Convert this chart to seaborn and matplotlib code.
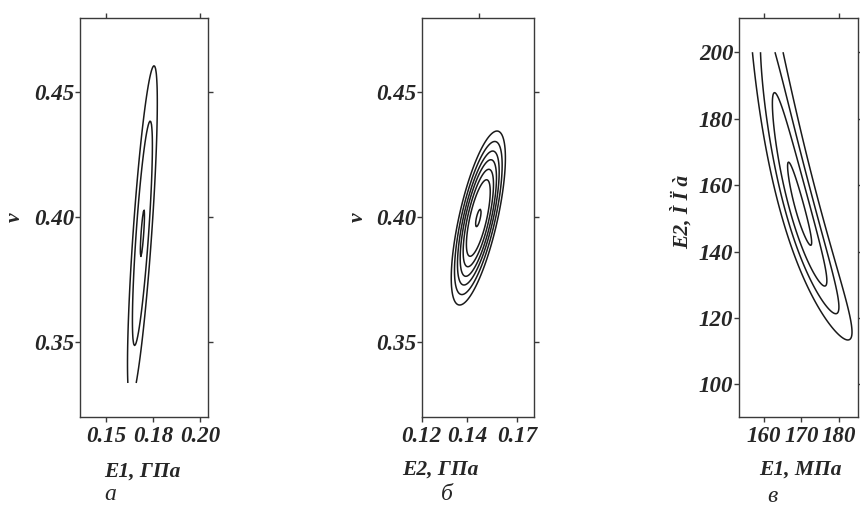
import numpy as np
import matplotlib
matplotlib.use("Agg")
import matplotlib.pyplot as plt
import seaborn as sns

sns.set_theme(style="ticks")
plt.rcParams['font.family'] = ['Liberation Serif', 'DejaVu Serif']

# ---------------- data ----------------
# panel а : E1 (GPa) vs nu
a_center = [0.1694, 0.3935]          # mean E1, mean nu
a_spread = [0.00793, 0.067]          # spread E1, spread nu (outer contour)
a_rho = 0.78
a_levels = [0.14, 0.67, 1.0]
a_grid_y = [0.3336, 0.475]           # nu range of the computed grid
a_xticks = [0.15, 0.175, 0.20]
a_xticklabels = ["0.15", "0.18", "0.20"]
a_topticks = [0.15, 0.20]
a_yticks = [0.35, 0.40, 0.45]
a_yticklabels = ["0.35", "0.40", "0.45"]

# panel б : E2 (GPa) vs nu
b_center = [0.1497, 0.3996]
b_spread = [0.0142, 0.0348]
b_rho = 0.69
b_levels = [0.10, 0.44, 0.56, 0.67, 0.77, 0.88, 1.0]
b_xticks = [0.12, 0.144, 0.17]
b_xticklabels = ["0.12", "0.14", "0.17"]
b_topticks = [0.15]
b_yticks = [0.35, 0.40, 0.45]
b_yticklabels = ["0.35", "0.40", "0.45"]

# panel в : E1 (MPa) vs E2 (in 1/E2 space)
c_center = [169.5, 0.00652]
c_spread = [14.0, 0.0023]
c_rho = 0.921
c_levels = [0.23, 0.52, 0.75, 1.0]
c_grid_y = [95.0, 200.0]
c_xticks = [160, 170, 180]
c_xticklabels = ["160", "170", "180"]
c_topticks = [160, 180]
c_yticks = [100, 120, 140, 160, 180, 200]
c_yticklabels = ["100", "120", "140", "160", "180", "200"]

# ---------------- figure ----------------
W, H = 860, 509
fig = plt.figure(figsize=(W / 100, H / 100), dpi=100)
fig.patch.set_facecolor("white")

bot = 92 / H
hgt = (417 - 18.3) / H
ax_a = fig.add_axes([80 / W, bot, 128 / W, hgt])
ax_b = fig.add_axes([421.7 / W, bot, 112.3 / W, hgt])
ax_c = fig.add_axes([739 / W, bot, 119 / W, hgt])

FAM = ['Liberation Serif', 'DejaVu Serif']
tick_font = dict(family=FAM, weight='bold', style='italic', size=16.5)
lab_font = dict(family=FAM, weight='bold', style='italic', size=15.5)
sub_font = dict(family=FAM, style='italic', size=17)

SPINE = "#3a3a3a"


def mahal(X, Y, center, spread, rho):
    zx = (X - center[0]) / spread[0]
    zy = (Y - center[1]) / spread[1]
    return np.sqrt((zx ** 2 - 2 * rho * zx * zy + zy ** 2) / (1 - rho ** 2))


def style(ax, xlim, ylim, xt, xtl, yt, ytl, topt):
    ax.set_facecolor("white")
    ax.set_xlim(*xlim)
    ax.set_ylim(*ylim)
    ax.set_xticks(xt)
    ax.set_xticklabels(xtl, fontdict=tick_font)
    ax.set_yticks(yt)
    ax.set_yticklabels(ytl, fontdict=tick_font)
    for s in ax.spines.values():
        s.set_visible(True)
        s.set_color(SPINE)
        s.set_linewidth(1.0)
    ax.tick_params(axis='both', direction='out', length=3.5, width=1.0,
                   color=SPINE, pad=0.5, left=True, right=True, bottom=True)
    ax.tick_params(axis='x', pad=3)
    sec = ax.secondary_xaxis('top')
    sec.set_xticks(topt)
    sec.set_xticklabels([])
    sec.spines['top'].set_visible(False)
    sec.tick_params(direction='out', length=3.5, width=1.0, color=SPINE)
    ax.grid(False)


# panel а
xa = np.linspace(0.136, 0.2043, 160)
ya = np.linspace(a_grid_y[0], a_grid_y[1], 160)
XA, YA = np.meshgrid(xa, ya)
ax_a.contour(XA, YA, mahal(XA, YA, a_center, a_spread, a_rho), levels=a_levels,
             colors="#1a1a1a", linewidths=1.1)
style(ax_a, (0.1362, 0.2043), (0.32, 0.4795), a_xticks, a_xticklabels,
      a_yticks, a_yticklabels, a_topticks)

# panel б
xb = np.linspace(0.12, 0.1789, 160)
yb = np.linspace(0.32, 0.4795, 220)
XB, YB = np.meshgrid(xb, yb)
ax_b.contour(XB, YB, mahal(XB, YB, b_center, b_spread, b_rho), levels=b_levels,
             colors="#1a1a1a", linewidths=1.1)
style(ax_b, (0.12, 0.1789), (0.32, 0.4795), b_xticks, b_xticklabels,
      b_yticks, b_yticklabels, b_topticks)

# panel в
xc = np.linspace(153.3, 185.1, 200)
yc = np.linspace(c_grid_y[0], c_grid_y[1], 260)
XC, YC = np.meshgrid(xc, yc)
ax_c.contour(XC, YC, mahal(XC, 1.0 / YC, c_center, c_spread, c_rho), levels=c_levels,
             colors="#1a1a1a", linewidths=1.1)
style(ax_c, (153.3, 185.1), (90.2, 210.2), c_xticks, c_xticklabels,
      c_yticks, c_yticklabels, c_topticks)


# axis labels and panel letters
def fx(px):
    return px / W


def fy(py):
    return 1 - py / H


fig.text(fx(15), fy(217), "ν", rotation=90, ha='center', va='center', **lab_font)
fig.text(fx(358), fy(217), "ν", rotation=90, ha='center', va='center', **lab_font)
fig.text(fx(682), fy(212), "E2, Ì Ï à", rotation=90, ha='center', va='center', **lab_font)

fig.text(fx(142), fy(472), "E1, ГПа", ha='center', va='center', **lab_font)
fig.text(fx(440), fy(470), "E2, ГПа", ha='center', va='center', **lab_font)
fig.text(fx(800), fy(470), "E1, МПа", ha='center', va='center', **lab_font)

fig.text(fx(110), fy(494), "а", ha='center', va='center', **sub_font)
fig.text(fx(447), fy(494), "б", ha='center', va='center', **sub_font)
fig.text(fx(772), fy(496), "в", ha='center', va='center', **sub_font)

fig.savefig("out.png", dpi=100, facecolor="white")
